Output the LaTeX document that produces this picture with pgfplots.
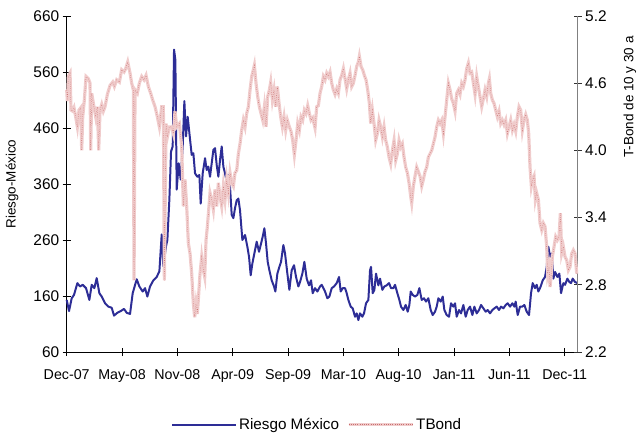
\documentclass[border=0pt]{standalone}
\usepackage{pgfplots}
\usepackage{pgfplotstable}
\pgfplotsset{compat=1.18}
\usepackage{fontspec}
\setmainfont{Liberation Sans}

\definecolor{riesgo}{RGB}{45,45,150}
\definecolor{tbondband}{RGB}{240,204,204}
\definecolor{tbonddot}{RGB}{200,110,110}

% x: position on the date axis, ticks every 166 units (Dec-07 = 0)
\pgfplotstableread{
x y
0 153
7 133
15 156
22 162
32 183
40 177
48 180
58 174
68 153
75 180
83 174
90 192
98 165
105 159
115 147
125 141
135 139
142 125
152 130
162 133
172 137
180 130
190 128
198 165
210 190
218 177
228 168
235 174
242 159
250 177
260 188
270 194
278 204
285 270
290 213
298 249
302 260
308 332
313 418
318 427
322 600
326 582
330 350
336 397
342 368
348 427
353 508
358 445
363 480
370 440
375 412
380 415
385 379
392 373
398 376
402 325
408 379
415 406
420 385
425 391
430 373
435 397
440 421
445 424
450 394
455 373
460 403
465 427
470 391
475 379
480 364
485 376
490 355
495 305
500 299
505 317
510 331
515 334
520 313
527 260
535 269
542 248
547 230
552 197
557 218
563 236
570 257
577 239
582 251
588 266
593 281
598 254
603 221
608 206
615 188
622 177
626 168
632 200
638 212
643 221
650 251
655 236
662 200
668 171
675 206
682 215
688 194
695 177
700 185
707 200
713 221
720 191
727 179
733 188
738 165
745 174
752 168
760 177
765 180
770 174
775 168
782 156
788 159
795 174
802 177
810 183
817 194
822 168
828 174
835 174
840 165
845 153
852 141
858 138
865 123
870 129
875 117
880 129
887 123
892 129
898 147
905 153
910 206
913 212
918 165
923 171
928 200
935 179
940 191
947 171
953 177
960 179
967 183
973 174
980 174
985 180
992 165
998 153
1003 141
1010 135
1017 144
1023 132
1028 144
1032 168
1038 162
1045 159
1052 162
1058 174
1065 153
1072 156
1078 150
1085 156
1092 135
1098 126
1105 132
1110 141
1115 156
1122 150
1128 159
1133 135
1140 126
1147 123
1153 147
1160 141
1165 147
1170 123
1177 135
1183 129
1190 144
1197 123
1203 135
1210 141
1217 126
1223 141
1230 129
1237 135
1243 144
1250 138
1257 132
1263 135
1270 129
1277 135
1283 138
1290 141
1297 135
1303 141
1310 138
1317 144
1323 147
1330 141
1337 147
1343 141
1347 150
1353 126
1360 141
1367 141
1373 144
1380 132
1387 126
1393 165
1398 183
1405 174
1410 180
1415 168
1422 177
1428 188
1435 194
1440 212
1445 248
1450 230
1455 236
1460 191
1465 203
1472 194
1478 200
1483 165
1490 183
1495 180
1502 191
1508 185
1513 183
1518 191
1525 185
1532 183
}\riesgodata

\pgfplotstableread{
x y
0 4.54
2 4.44
5 4.66
10 4.69
13 4.36
18 4.35
22 4.38
27 4.30
32 4.21
37 4.36
42 4.38
45 4.00
48 4.30
53 4.45
58 4.66
65 4.64
70 4.60
72 4.00
75 4.51
80 4.42
87 4.30
92 4.39
96 4.00
100 4.36
105 4.41
110 4.35
115 4.39
122 4.50
130 4.58
138 4.61
143 4.57
150 4.63
158 4.61
165 4.72
172 4.70
177 4.73
183 4.79
190 4.69
195 4.60
200 4.54
202 2.84
205 4.54
212 4.51
218 4.60
225 4.66
232 4.63
238 4.67
245 4.57
252 4.51
258 4.45
265 4.39
272 4.30
278 4.21
285 4.39
290 4.39
293 2.84
298 4.24
302 4.12
308 4.21
315 4.21
320 4.15
325 4.35
330 4.21
338 4.24
345 4.03
350 3.50
355 3.74
360 3.50
365 3.17
370 3.08
375 2.90
380 2.63
384 2.51
388 2.63
392 2.54
396 2.72
400 2.90
405 3.05
410 2.93
414 2.87
418 3.20
422 3.32
426 3.47
430 3.62
435 3.56
440 3.47
445 3.65
450 3.50
455 3.71
460 3.59
465 3.50
470 3.68
475 3.56
480 3.74
485 3.62
490 3.80
495 3.71
500 3.68
505 3.80
510 3.82
515 3.97
520 4.06
525 4.18
530 4.27
535 4.21
540 4.33
545 4.39
550 4.54
555 4.66
560 4.72
563 4.76
568 4.60
573 4.48
578 4.39
583 4.33
588 4.27
593 4.39
598 4.21
603 4.48
608 4.54
612 4.61
617 4.45
622 4.54
627 4.39
632 4.57
637 4.42
642 4.30
647 4.21
652 4.30
657 4.18
662 4.27
668 4.21
673 4.17
678 4.09
683 3.96
688 4.09
693 4.24
698 4.18
703 4.30
708 4.27
713 4.36
718 4.33
723 4.40
728 4.33
733 4.27
738 4.29
745 4.20
750 4.39
755 4.40
760 4.51
765 4.57
770 4.66
775 4.63
780 4.69
785 4.66
790 4.70
795 4.60
800 4.54
805 4.50
810 4.55
815 4.51
820 4.63
825 4.67
830 4.73
835 4.64
840 4.55
845 4.63
850 4.69
855 4.57
860 4.60
865 4.67
870 4.75
875 4.79
878 4.84
883 4.75
888 4.72
893 4.67
898 4.63
903 4.54
908 4.42
912 4.24
917 4.36
922 4.24
927 4.09
932 4.15
937 4.27
942 4.21
947 4.12
952 4.21
957 4.09
962 4.03
967 3.94
972 3.88
977 4.00
982 4.09
987 3.91
992 3.97
997 4.09
1002 4.03
1007 4.06
1012 3.94
1017 3.85
1022 3.80
1027 3.71
1032 3.59
1035 3.53
1040 3.68
1045 3.77
1050 3.85
1055 3.81
1060 3.77
1065 3.68
1070 3.74
1075 3.81
1080 3.85
1085 3.94
1090 3.97
1095 4.00
1100 4.06
1105 4.12
1110 4.21
1115 4.27
1120 4.24
1125 4.27
1130 4.15
1135 4.30
1140 4.45
1145 4.60
1150 4.54
1155 4.46
1160 4.42
1165 4.35
1170 4.51
1175 4.54
1180 4.50
1185 4.60
1190 4.57
1195 4.63
1200 4.73
1205 4.78
1210 4.69
1215 4.70
1220 4.60
1225 4.50
1230 4.66
1235 4.57
1240 4.48
1245 4.39
1250 4.46
1255 4.54
1260 4.48
1265 4.60
1268 4.64
1272 4.51
1277 4.45
1282 4.42
1287 4.36
1292 4.30
1297 4.35
1302 4.24
1307 4.27
1312 4.23
1317 4.27
1322 4.15
1327 4.21
1332 4.27
1337 4.18
1342 4.23
1347 4.17
1352 4.30
1357 4.39
1362 4.36
1367 4.18
1372 4.27
1377 4.32
1382 4.27
1386 4.15
1390 3.85
1394 3.68
1398 3.74
1402 3.77
1406 3.56
1410 3.62
1415 3.56
1420 3.35
1425 3.29
1430 3.35
1435 3.32
1440 3.14
1443 2.90
1447 2.96
1450 2.78
1453 2.87
1457 3.05
1462 3.14
1467 3.23
1472 3.20
1477 3.23
1481 3.44
1485 3.08
1490 3.14
1495 3.05
1500 3.02
1505 2.93
1510 2.96
1515 3.08
1520 3.11
1525 3.08
1530 2.90
}\tbonddata

\pgfplotsset{
  base/.style={
    width=511bp, height=336bp, scale only axis,
    xmin=0, xmax=1533,
    xtick={0,166,332,498,664,830,996,1162,1328,1494},
    major tick length=8bp, tick align=center,
    clip=false,
  },
  riesgo line/.style={riesgo, line width=2pt, line join=round},
  tbond line/.style={tbondband, line width=3.2pt,
    postaction={draw, tbonddot, line width=0.45pt, dash pattern=on 0.6pt off 1.6pt}},
}

\begin{document}
\begin{tikzpicture}
\begin{axis}[base,
  axis x line*=bottom, axis y line*=left,
  ymin=60, ymax=660,
  ytick={60,160,260,360,460,560,660},
  yticklabels={60,160,260,360,460,560,660},
  xticklabels={Dec-07,May-08,Nov-08,Apr-09,Sep-09,Mar-10,Aug-10,Jan-11,Jun-11,Dec-11},
  x tick label style={font=\fontsize{14.3}{16}\selectfont, yshift=-10bp},
  y tick label style={font=\fontsize{15.5}{17}\selectfont},
  ylabel={Riesgo-México},
  ylabel style={font=\fontsize{13.5}{15}\selectfont, at={(axis description cs:-0.107,0.5)}, anchor=center},
  axis line style={black, line width=0.8pt, -},
  tick style={black, line width=0.8pt},
]
\addplot[riesgo line] table {\riesgodata};
\end{axis}
\begin{axis}[base,
  axis x line=none, axis y line*=right,
  ymin=2.2, ymax=5.2,
  ytick={2.2,2.8,3.4,4.0,4.6,5.2},
  yticklabels={2.2,2.8,3.4,4.0,4.6,5.2},
  y tick label style={font=\fontsize{15.5}{17}\selectfont},
  ylabel={T-Bond de 10 y 30 a},
  ylabel style={font=\fontsize{13.5}{15}\selectfont, at={(axis description cs:1.102,0.759)}, anchor=center},
  axis line style={gray, line width=1.2pt, -},
  tick style={black!80, line width=0.8pt},
  legend columns=2,
  legend style={at={(axis description cs:0.49,-0.216)}, anchor=center,
    draw=none, fill=none, font=\fontsize{15.3}{17}\selectfont,
    /tikz/every even column/.append style={column sep=6bp}},
  legend image code/.code={\draw[#1] (0bp,0bp) -- (64bp,0bp);},
]
\addlegendimage{riesgo line}
\addlegendentry{Riesgo México}
\addplot[tbond line] table {\tbonddata};
\addlegendentry{TBond}
\end{axis}
\pgfresetboundingbox
\path ([shift={(-66.7bp,-85bp)}]current axis.south west) rectangle ([shift={(59.3bp,16bp)}]current axis.north east);
\end{tikzpicture}
\end{document}
